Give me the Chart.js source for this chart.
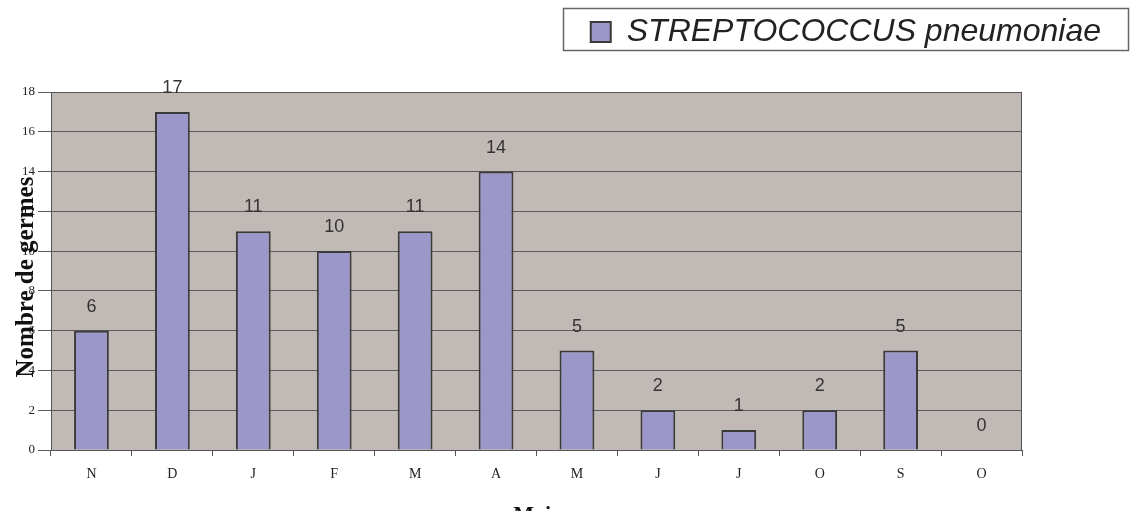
<!DOCTYPE html>
<html lang="fr">
<head>
    <meta charset="UTF-8">
    <title>STREPTOCOCCUS pneumoniae - nombre de germes par mois</title>
    <script src="https://cdn.jsdelivr.net/npm/chart.js"></script>
    <style>
        html, body {
            margin: 0;
            padding: 0;
            background: #ffffff;
        }
        #wrap {
            width: 1130px;
            height: 511px;
        }
    </style>
</head>
<body>
    <div id="wrap">
        <canvas id="germChart" width="1130" height="511"></canvas>
    </div>

    <script>
        // chart data
        const months = ['N', 'D', 'J', 'F', 'M', 'A', 'M', 'J', 'J', 'O', 'S', 'O'];
        const counts = [6, 17, 11, 10, 11, 14, 5, 2, 1, 2, 5, 0];
        const yTicks = [0, 2, 4, 6, 8, 10, 12, 14, 16, 18];
        const seriesName = 'STREPTOCOCCUS pneumoniae';
        const yTitle = 'Nombre de germes';
        const xTitle = 'Mois';

        const plotBg = '#c1b9b6';
        const barColor = '#9c97c9';
        const darkLine = '#3a3a3a';

        // grey plot area + frame
        const plotArea = {
            id: 'plotArea',
            beforeDraw(chart) {
                const a = chart.chartArea;
                const ctx = chart.ctx;
                ctx.save();
                ctx.fillStyle = plotBg;
                ctx.fillRect(a.left, a.top, a.right - a.left, a.bottom - a.top);
                ctx.restore();
            },
            beforeDatasetsDraw(chart) {
                const a = chart.chartArea;
                const ctx = chart.ctx;
                ctx.save();
                ctx.strokeStyle = '#555';
                ctx.lineWidth = 1;
                ctx.strokeRect(a.left + 0.5, a.top + 0.5, a.right - a.left - 1, a.bottom - a.top);
                ctx.restore();
            }
        };

        // values above the bars
        const barValues = {
            id: 'barValues',
            afterDatasetsDraw(chart) {
                const ctx = chart.ctx;
                const meta = chart.getDatasetMeta(0);
                ctx.save();
                ctx.font = '18px "Liberation Sans", Arial, sans-serif';
                ctx.fillStyle = '#333';
                ctx.textAlign = 'center';
                ctx.textBaseline = 'alphabetic';
                meta.data.forEach((bar, i) => {
                    ctx.fillText(String(counts[i]), bar.x, bar.y - 19);
                });
                ctx.restore();
            }
        };

        // axis titles (the y title sits over the tick labels, like the original)
        const axisTitles = {
            id: 'axisTitles',
            afterDraw(chart) {
                const a = chart.chartArea;
                const ctx = chart.ctx;
                ctx.save();
                ctx.fillStyle = '#111';
                ctx.font = 'bold 25px "Liberation Serif", "Times New Roman", serif';
                ctx.textAlign = 'center';
                ctx.textBaseline = 'alphabetic';
                ctx.translate(33, 277);
                ctx.rotate(-Math.PI / 2);
                ctx.fillText(yTitle, 0, 0);
                ctx.restore();

                ctx.save();
                ctx.fillStyle = '#111';
                ctx.font = 'bold 22px "Liberation Serif", "Times New Roman", serif';
                ctx.textAlign = 'center';
                ctx.textBaseline = 'alphabetic';
                ctx.fillText(xTitle, (a.left + a.right) / 2, 521);
                ctx.restore();
            }
        };

        // framed legend
        const legendFrame = {
            id: 'legendFrame',
            afterDraw(chart) {
                const hb = chart.legend.legendHitBoxes[0];
                if (!hb) return;
                const ctx = chart.ctx;
                const left = Math.round(hb.left) - 28;
                ctx.save();
                ctx.strokeStyle = '#666';
                ctx.lineWidth = 1.5;
                ctx.strokeRect(left + 0.5, 8.5, 1128 - left, 42);
                ctx.restore();
            }
        };

        const serif = '"Liberation Serif", "Times New Roman", serif';

        new Chart(document.getElementById('germChart'), {
            type: 'bar',
            data: {
                labels: months,
                datasets: [{
                    label: seriesName,
                    data: counts,
                    backgroundColor: barColor,
                    borderColor: darkLine,
                    borderWidth: 2,
                    categoryPercentage: 1,
                    barPercentage: 0.43
                }]
            },
            options: {
                responsive: false,
                animation: false,
                layout: {
                    padding: { top: 12, right: 25, bottom: 0, left: 0 }
                },
                plugins: {
                    tooltip: { enabled: false },
                    legend: {
                        position: 'top',
                        align: 'end',
                        labels: {
                            boxWidth: 20,
                            boxHeight: 20,
                            padding: 4,
                            color: '#222',
                            font: { family: '"Liberation Sans", Arial, sans-serif', size: 32, style: 'italic' }
                        }
                    }
                },
                scales: {
                    x: {
                        grid: {
                            offset: true,
                            drawOnChartArea: false,
                            tickLength: 6,
                            color: '#555'
                        },
                        border: { color: darkLine },
                        ticks: {
                            color: '#222',
                            padding: 10,
                            font: { family: serif, size: 14 }
                        },
                        afterFit(s) { s.height = 61; }
                    },
                    xTop: {
                        axis: 'x',
                        position: 'top',
                        grid: { display: false },
                        border: { display: false },
                        ticks: { display: false },
                        afterFit(s) { s.height = 34; }
                    },
                    y: {
                        min: 0,
                        max: 18,
                        afterBuildTicks(s) { s.ticks = yTicks.map(v => ({ value: v })); },
                        grid: {
                            color: '#5a5a5a',
                            tickLength: 13
                        },
                        border: { color: darkLine },
                        ticks: {
                            color: '#222',
                            padding: 3,
                            font: { family: serif, size: 13 }
                        },
                        afterFit(s) { s.width = 51; }
                    },
                    yRight: {
                        axis: 'y',
                        position: 'right',
                        grid: { display: false },
                        border: { display: false },
                        ticks: { display: false },
                        afterFit(s) { s.width = 83; }
                    }
                }
            },
            plugins: [plotArea, barValues, axisTitles, legendFrame]
        });
    </script>
</body>
</html>
